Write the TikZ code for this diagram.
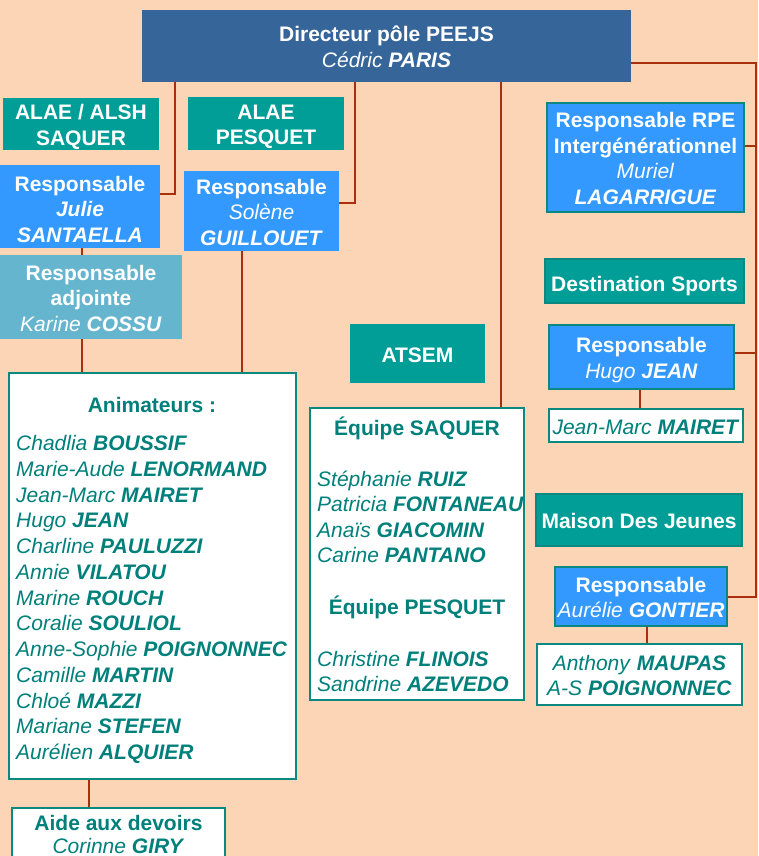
\documentclass[tikz,border=0pt]{standalone}
\usepackage{fontspec}
\setmainfont{Liberation Sans}
\definecolor{bgc}{HTML}{FBD5B5}
\definecolor{dirblue}{HTML}{366699}
\definecolor{tealbox}{HTML}{009E97}
\definecolor{tealdark}{HTML}{0B887F}
\definecolor{brblue}{HTML}{3399FF}
\definecolor{adjblue}{HTML}{66B5CF}
\definecolor{tealtext}{HTML}{00807B}
\definecolor{rust}{HTML}{A8300C}
\newcommand\iname[1]{\textit{\mdseries #1}}
\newcommand\bname[1]{\textbf{\textit{#1}}}
\newcommand\nm[2]{\textit{#1} \textbf{\textit{#2}}}
\newcommand\boxfont{\fontsize{21}{25.5}\selectfont}
\begin{document}
\begin{tikzpicture}[x=1pt,y=-1pt,
  box/.style={rectangle, inner sep=0pt, align=center, font=\boxfont, text depth=0pt},
  lone/.style={text height=17pt},
  ltwo/.style={text height=42.5pt},
  lthree/.style={text height=68pt},
  lfour/.style={text height=93.5pt},
  dirbox/.style={box, fill=dirblue, text=white, font=\boxfont\bfseries},
  tbox/.style={box, fill=tealbox, text=white, font=\boxfont\bfseries},
  tboxb/.style={tbox, draw=tealdark, line width=2pt},
  bbox/.style={box, fill=brblue, text=white, font=\boxfont\bfseries},
  bboxb/.style={bbox, draw=tealdark, line width=2pt},
  abox/.style={box, fill=adjblue, text=white, font=\boxfont\bfseries},
  wbox/.style={box, fill=white, draw=tealdark, line width=1.5pt, text=tealtext},
  txt/.style={inner sep=0pt, text=tealtext, font=\boxfont},
  link/.style={draw=rust, line width=2.6pt}]
\fill[bgc] (0,0) rectangle (758,856);
\useasboundingbox (0,0) rectangle (758,856);

% boxes
\node[dirbox, ltwo, minimum width=489, minimum height=72] (dir) at (386.5,46)
  {Directeur pôle PEEJS\\\iname{Cédric} \bname{PARIS}};
\node[tbox, ltwo, minimum width=156, minimum height=52] (alsh) at (81,124) {ALAE / ALSH\\SAQUER};
\node[tbox, ltwo, minimum width=156, minimum height=53] (alaep) at (266,123.5) {ALAE\\PESQUET};
\node[bbox, text height=71pt, minimum width=160, minimum height=83] (julie) at (80,206.5)
  {Responsable\\\bname{Julie}\\\bname{SANTAELLA}};
\node[bbox, lthree, minimum width=155, minimum height=80] (solene) at (261.5,211)
  {Responsable\\\iname{Solène}\\\bname{GUILLOUET}};
\node[abox, lthree, minimum width=182, minimum height=84] (karine) at (91,297)
  {Responsable\\adjointe\\\iname{Karine} \bname{COSSU}};
\node[wbox, minimum width=287, minimum height=406] (anim) at (152.5,576) {};
\node[wbox, minimum width=213, minimum height=80] (aide) at (118.5,848) {};
\node[tbox, lone, minimum width=135, minimum height=59] (atsem) at (417.5,353.5) {ATSEM};
\node[wbox, minimum width=214, minimum height=292] (equipe) at (417,554) {};
\node[bboxb, lfour, minimum width=197, minimum height=109] (rpe) at (645.5,157.5)
  {Responsable RPE\\Intergénérationnel\\\iname{Muriel}\\\bname{LAGARRIGUE}};
\node[tboxb, text height=20pt, minimum width=199, minimum height=44] (dest) at (644.5,281) {Destination Sports};
\node[bboxb, ltwo, minimum width=185, minimum height=64] (hugo) at (641.5,357)
  {Responsable\\\iname{Hugo} \bname{JEAN}};
\node[wbox, lone, minimum width=194, minimum height=33] (jmm) at (646,425.5) {\nm{Jean-Marc}{MAIRET}};
\node[tboxb, lone, minimum width=206, minimum height=52] (mdj) at (639,520) {Maison Des Jeunes};
\node[bboxb, ltwo, minimum width=172, minimum height=59] (aurelie) at (641,596.5)
  {Responsable\\\iname{Aurélie} \bname{GONTIER}};
\node[wbox, ltwo, minimum width=205, minimum height=61] (anthony) at (639.5,674.5)
  {\nm{Anthony}{MAUPAS}\\\nm{A-S}{POIGNONNEC}};

% texts inside Animateurs
\node[txt, anchor=base, font=\boxfont\bfseries] (animt) at (152,412) {Animateurs :};
\foreach \f/\l [count=\i] in {Chadlia/BOUSSIF, Marie-Aude/LENORMAND, Jean-Marc/MAIRET,
  Hugo/JEAN, Charline/PAULUZZI, Annie/VILATOU, Marine/ROUCH, Coralie/SOULIOL,
  Anne-Sophie/POIGNONNEC, Camille/MARTIN, Chloé/MAZZI, Mariane/STEFEN, Aurélien/ALQUIER}
  \node[txt, anchor=base west] (an\i) at (16,{450.5+25.75*(\i-1)}) {\nm{\f}{\l}};

% Aide aux devoirs
\node[txt, anchor=base, font=\boxfont\bfseries] (aidet) at (118.5,830.5) {Aide aux devoirs};
\node[txt, anchor=base] (aiden) at (118.5,853) {\nm{Corinne}{GIRY}};

% Equipe texts
\node[txt, anchor=base, font=\boxfont\bfseries] (eqs) at (417,435.5) {Équipe SAQUER};
\node[txt, anchor=base west] (e1) at (317,486.5) {\nm{Stéphanie}{RUIZ}};
\node[txt, anchor=base west] (e2) at (317,511.5) {\nm{Patricia}{FONTANEAU}};
\node[txt, anchor=base west] (e3) at (317,537.5) {\nm{Anaïs}{GIACOMIN}};
\node[txt, anchor=base west] (e4) at (317,562.5) {\nm{Carine}{PANTANO}};
\node[txt, anchor=base, font=\boxfont\bfseries] (eqp) at (417,614.5) {Équipe PESQUET};
\node[txt, anchor=base west] (e5) at (317,666.5) {\nm{Christine}{FLINOIS}};
\node[txt, anchor=base west] (e6) at (317,691.5) {\nm{Sandrine}{AZEVEDO}};

% connectors
\coordinate (c1) at (175,194);
\coordinate (c2) at (355,203);
\coordinate (c3) at (82,0);
\coordinate (c4) at (242,0);
\coordinate (c5) at (89,0);
\coordinate (c6) at (501,0);
\coordinate (c7) at (756,63);
\coordinate (c8) at (756,597);
\coordinate (c9) at (756,146);
\coordinate (c10) at (756,353);
\coordinate (c11) at (640,0);
\coordinate (c12) at (647,0);
\draw[link] (dir.south -| c1) -- (c1) -- (c1 -| julie.east);
\draw[link] (dir.south -| c2) -- (c2) -- (c2 -| solene.east);
\draw[link] (julie.south -| c3) -- (karine.north -| c3);
\draw[link] (karine.south -| c3) -- (anim.north -| c3);
\draw[link] (solene.south -| c4) -- (anim.north -| c4);
\draw[link] (anim.south -| c5) -- (aide.north -| c5);
\draw[link] (dir.south -| c6) -- (equipe.north -| c6);
\draw[link] (dir.east |- c7) -- (c7) -- (c8) -- (c8 -| aurelie.east);
\draw[link] (rpe.east |- c9) -- (c9);
\draw[link] (hugo.east |- c10) -- (c10);
\draw[link] (hugo.south -| c11) -- (jmm.north -| c11);
\draw[link] (aurelie.south -| c12) -- (anthony.north -| c12);
\end{tikzpicture}
\end{document}
